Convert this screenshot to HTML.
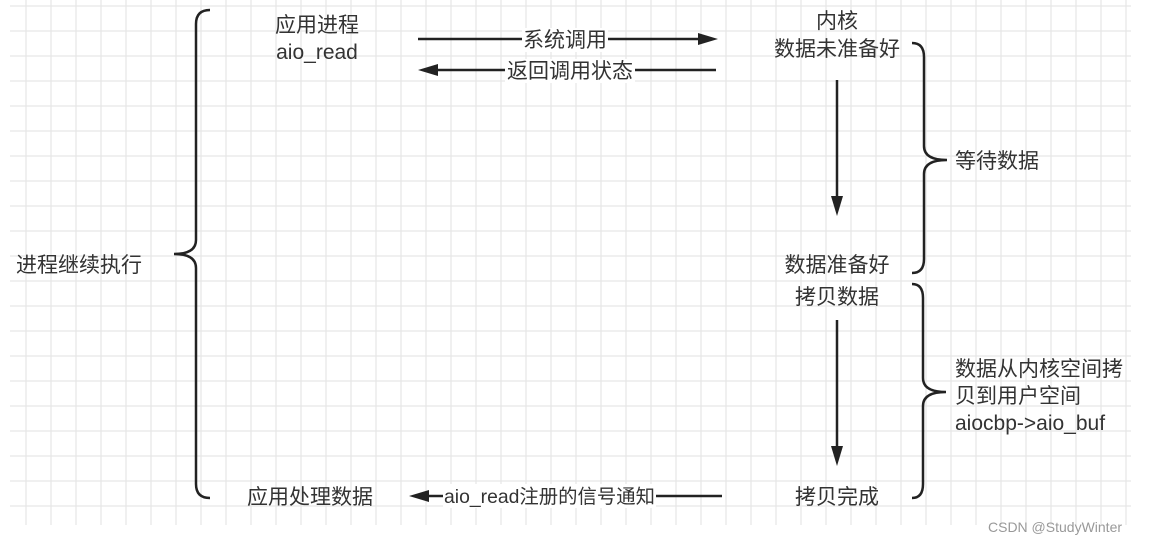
<!DOCTYPE html>
<html><head><meta charset="utf-8"><style>
html,body{margin:0;padding:0;background:#fff;}
svg{display:block;}
text{font-family:"Liberation Sans","Noto Sans CJK SC",sans-serif;font-size:21px;fill:#333;}
</style></head><body>
<svg width="1154" height="545" xmlns="http://www.w3.org/2000/svg">
<g stroke="#e6e6e6" stroke-width="1.2">
<line x1="10" y1="6" x2="1131" y2="6"/><line x1="10" y1="31" x2="1131" y2="31"/><line x1="10" y1="56" x2="1131" y2="56"/><line x1="10" y1="81" x2="1131" y2="81"/><line x1="10" y1="106" x2="1131" y2="106"/><line x1="10" y1="131" x2="1131" y2="131"/><line x1="10" y1="156" x2="1131" y2="156"/><line x1="10" y1="181" x2="1131" y2="181"/><line x1="10" y1="206" x2="1131" y2="206"/><line x1="10" y1="231" x2="1131" y2="231"/><line x1="10" y1="256" x2="1131" y2="256"/><line x1="10" y1="281" x2="1131" y2="281"/><line x1="10" y1="306" x2="1131" y2="306"/><line x1="10" y1="331" x2="1131" y2="331"/><line x1="10" y1="356" x2="1131" y2="356"/><line x1="10" y1="381" x2="1131" y2="381"/><line x1="10" y1="406" x2="1131" y2="406"/><line x1="10" y1="431" x2="1131" y2="431"/><line x1="10" y1="456" x2="1131" y2="456"/><line x1="10" y1="481" x2="1131" y2="481"/><line x1="10" y1="506" x2="1131" y2="506"/>
<line x1="26" y1="0" x2="26" y2="525"/><line x1="51" y1="0" x2="51" y2="525"/><line x1="76" y1="0" x2="76" y2="525"/><line x1="101" y1="0" x2="101" y2="525"/><line x1="126" y1="0" x2="126" y2="525"/><line x1="151" y1="0" x2="151" y2="525"/><line x1="176" y1="0" x2="176" y2="525"/><line x1="201" y1="0" x2="201" y2="525"/><line x1="226" y1="0" x2="226" y2="525"/><line x1="251" y1="0" x2="251" y2="525"/><line x1="276" y1="0" x2="276" y2="525"/><line x1="301" y1="0" x2="301" y2="525"/><line x1="326" y1="0" x2="326" y2="525"/><line x1="351" y1="0" x2="351" y2="525"/><line x1="376" y1="0" x2="376" y2="525"/><line x1="401" y1="0" x2="401" y2="525"/><line x1="426" y1="0" x2="426" y2="525"/><line x1="451" y1="0" x2="451" y2="525"/><line x1="476" y1="0" x2="476" y2="525"/><line x1="501" y1="0" x2="501" y2="525"/><line x1="526" y1="0" x2="526" y2="525"/><line x1="551" y1="0" x2="551" y2="525"/><line x1="576" y1="0" x2="576" y2="525"/><line x1="601" y1="0" x2="601" y2="525"/><line x1="626" y1="0" x2="626" y2="525"/><line x1="651" y1="0" x2="651" y2="525"/><line x1="676" y1="0" x2="676" y2="525"/><line x1="701" y1="0" x2="701" y2="525"/><line x1="726" y1="0" x2="726" y2="525"/><line x1="751" y1="0" x2="751" y2="525"/><line x1="776" y1="0" x2="776" y2="525"/><line x1="801" y1="0" x2="801" y2="525"/><line x1="826" y1="0" x2="826" y2="525"/><line x1="851" y1="0" x2="851" y2="525"/><line x1="876" y1="0" x2="876" y2="525"/><line x1="901" y1="0" x2="901" y2="525"/><line x1="926" y1="0" x2="926" y2="525"/><line x1="951" y1="0" x2="951" y2="525"/><line x1="976" y1="0" x2="976" y2="525"/><line x1="1001" y1="0" x2="1001" y2="525"/><line x1="1026" y1="0" x2="1026" y2="525"/><line x1="1051" y1="0" x2="1051" y2="525"/><line x1="1076" y1="0" x2="1076" y2="525"/><line x1="1101" y1="0" x2="1101" y2="525"/><line x1="1126" y1="0" x2="1126" y2="525"/>
</g>
<g fill="none" stroke="#222" stroke-width="2.5">
<path d="M210,10 Q196,10 196,24 L196,240 Q196,254 174,254 Q196,254 196,268 L196,484 Q196,498 210,498"/>
<path d="M912,43 Q924,43 924,57 L924,146 Q924,160 947,160 Q924,160 924,174 L924,259 Q924,273 912,273"/>
<path d="M912,284 Q923,284 923,298 L923,378 Q923,392 946,392 Q923,392 923,406 L923,484 Q923,498 912,498"/>
<line x1="418" y1="39" x2="700" y2="39"/>
<line x1="434" y1="70" x2="716" y2="70"/>
<line x1="837" y1="80" x2="837" y2="198"/>
<line x1="837" y1="320" x2="837" y2="448"/>
<line x1="425" y1="496" x2="722" y2="496"/>
</g>
<g fill="#222">
<polygon points="718,39 698,33 698,45"/>
<polygon points="418,70 438,64 438,76"/>
<polygon points="837,216 831,196 843,196"/>
<polygon points="837,466 831,446 843,446"/>
<polygon points="409,496 429,490 429,502"/>
</g>
<g fill="#fff">
<rect x="522" y="28" width="86" height="24"/>
<rect x="505" y="59" width="130" height="24"/>
<rect x="443" y="484" width="213" height="24"/>
</g>
<text x="317" y="32" text-anchor="middle">应用进程</text>
<text x="317" y="59" text-anchor="middle">aio_read</text>
<text x="565" y="47" text-anchor="middle">系统调用</text>
<text x="570" y="78" text-anchor="middle">返回调用状态</text>
<text x="837" y="28" text-anchor="middle">内核</text>
<text x="837" y="56" text-anchor="middle">数据未准备好</text>
<text x="955" y="168">等待数据</text>
<text x="837" y="272" text-anchor="middle">数据准备好</text>
<text x="837" y="304" text-anchor="middle">拷贝数据</text>
<text x="955" y="376">数据从内核空间拷</text>
<text x="955" y="403">贝到用户空间</text>
<text x="955" y="430">aiocbp-&gt;aio_buf</text>
<text x="837" y="504" text-anchor="middle">拷贝完成</text>
<text x="310" y="504" text-anchor="middle">应用处理数据</text>
<text x="549.5" y="503" text-anchor="middle" textLength="211" lengthAdjust="spacingAndGlyphs" style="font-size:19.5px">aio_read注册的信号通知</text>
<text x="16" y="272">进程继续执行</text>
<text x="988" y="532" style="font-size:14px;fill:#999">CSDN @StudyWinter</text>
</svg>
</body></html>
